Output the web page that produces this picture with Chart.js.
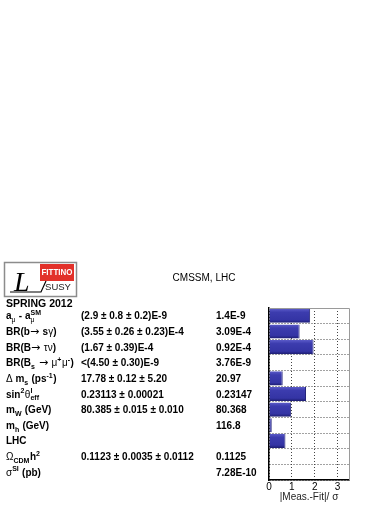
<!DOCTYPE html>
<html>
<head>
<meta charset="utf-8">
<script src="https://cdn.jsdelivr.net/npm/chart.js@4.4.0/dist/chart.umd.min.js"></script>
<style>
  html, body { margin: 0; padding: 0; background: #fff; }
  #wrap { width: 390px; height: 505px; position: relative; }
</style>
</head>
<body>
<div id="wrap"><canvas id="pulls" width="390" height="505"></canvas></div>
<script>
// rows of the fit, top to bottom
const rowNames = ['a_mu', 'BR(b->sgamma)', 'BR(B->taunu)', 'BR(Bs->mumu)', 'Delta ms', 'sin2theta', 'mW', 'mh', 'LHC', 'Omega h2', 'sigmaSI'];

// label segments: t = plain bold, g = greek (normal weight), a = arrow, sub / sup = small
const rowLabels = [
  [{ t: 'a' }, { sub: 'μ', g: true }, { t: ' - a' }, { sup: 'SM', sub: 'μ', g: true }],
  [{ t: 'BR(b' }, { t: '→ ', a: true }, { t: 's' }, { t: 'γ', g: true }, { t: ')' }],
  [{ t: 'BR(B' }, { t: '→ ', a: true }, { t: 'τν', g: true }, { t: ')' }],
  [{ t: 'BR(B' }, { sub: 's' }, { t: ' → ', a: true }, { t: 'μ', g: true }, { sup: '+' }, { t: 'μ', g: true }, { sup: '-' }, { t: ')' }],
  [{ t: 'Δ', g: true }, { t: ' m' }, { sub: 's' }, { t: ' (ps' }, { sup: '-1' }, { t: ')' }],
  [{ t: 'sin' }, { sup: '2' }, { t: 'θ', g: true }, { sup: 'l', sub: 'eff' }],
  [{ t: 'm' }, { sub: 'W' }, { t: ' (GeV)' }],
  [{ t: 'm' }, { sub: 'h' }, { t: ' (GeV)' }],
  [{ t: 'LHC' }],
  [{ t: 'Ω', g: true }, { sub: 'CDM' }, { t: 'h' }, { sup: '2' }],
  [{ t: 'σ', g: true }, { sup: 'SI' }, { t: ' (pb)' }]
];

const measured = [
  '(2.9 ± 0.8 ± 0.2)E-9',
  '(3.55 ± 0.26 ± 0.23)E-4',
  '(1.67 ± 0.39)E-4',
  '<(4.50 ± 0.30)E-9',
  '17.78 ± 0.12 ± 5.20',
  '0.23113 ± 0.00021',
  '80.385 ± 0.015 ± 0.010',
  '',
  '',
  '0.1123 ± 0.0035 ± 0.0112',
  ''
];

const fitted = ['1.4E-9', '3.09E-4', '0.92E-4', '3.76E-9', '20.97', '0.23147', '80.368', '116.8', '', '0.1125', '7.28E-10'];

// |Meas.-Fit| / sigma
const pulls = [1.8, 1.34, 1.95, 0, 0.6, 1.62, 0.97, 0.12, 0.72, 0.02, 0];

const pullMax = 3.5;

const SANS = '"Liberation Sans", Arial, Helvetica, sans-serif';

function segFont(s, size) {
  if (s.a) return 'normal ' + (size + 1) + 'px "DejaVu Sans", ' + SANS;
  return (s.g ? 'normal ' : 'bold ') + size + 'px ' + SANS;
}

function drawRich(ctx, x, y, segs, size) {
  ctx.textAlign = 'left';
  ctx.textBaseline = 'alphabetic';
  segs.forEach(s => {
    if (s.t) {
      ctx.font = segFont(s, size);
      ctx.fillText(s.t, x, y);
      x += ctx.measureText(s.t).width;
    } else {
      const small = size * 0.7;
      let adv = 0;
      if (s.sup) {
        ctx.font = 'bold ' + small + 'px ' + SANS;
        ctx.fillText(s.sup, x, y - size * 0.42);
        adv = Math.max(adv, ctx.measureText(s.sup).width);
      }
      if (s.sub) {
        ctx.font = (s.g ? 'normal ' : 'bold ') + small + 'px ' + SANS;
        ctx.fillText(s.sub, x, y + size * 0.28);
        adv = Math.max(adv, ctx.measureText(s.sub).width);
      }
      x += adv + 0.5;
    }
  });
}

function drawLogo(ctx) {
  ctx.save();
  ctx.strokeStyle = '#8c8c8c';
  ctx.lineWidth = 1.5;
  ctx.strokeRect(4.5, 262.5, 72, 34);
  ctx.fillStyle = '#e2312a';
  ctx.fillRect(40, 264, 34, 17);
  ctx.fillStyle = '#fff';
  ctx.font = 'bold 9px ' + SANS;
  ctx.textAlign = 'center';
  ctx.textBaseline = 'middle';
  ctx.fillText('FITTINO', 57, 273, 31);
  ctx.fillStyle = '#222';
  ctx.font = 'normal 9.5px ' + SANS;
  ctx.fillText('SUSY', 58, 287.5);
  ctx.fillStyle = '#000';
  ctx.font = 'italic 28px "Liberation Serif", serif';
  ctx.textAlign = 'left';
  ctx.textBaseline = 'alphabetic';
  ctx.fillText('L', 14, 291);
  ctx.strokeStyle = '#000';
  ctx.lineWidth = 1.2;
  ctx.beginPath();
  ctx.moveTo(10, 292);
  ctx.lineTo(41, 292);
  ctx.lineTo(46, 281);
  ctx.stroke();
  ctx.font = 'bold 10.5px ' + SANS;
  ctx.fillText('SPRING 2012', 6, 307);
  ctx.restore();
}

const sideText = {
  id: 'sideText',
  afterDraw(chart) {
    const ctx = chart.ctx;
    const y = chart.scales.y;
    const area = chart.chartArea;
    ctx.save();
    // top / right frame
    ctx.strokeStyle = '#9a9a9a';
    ctx.lineWidth = 1;
    ctx.beginPath();
    ctx.moveTo(area.left, area.top + 0.5);
    ctx.lineTo(area.right + 0.5, area.top + 0.5);
    ctx.lineTo(area.right + 0.5, area.bottom);
    ctx.stroke();

    ctx.fillStyle = '#000';
    rowNames.forEach((n, i) => {
      const yc = y.getPixelForValue(i) + 3.5;
      drawRich(ctx, 6, yc, rowLabels[i], 10);
      ctx.font = 'bold 10px ' + SANS;
      ctx.textAlign = 'left';
      if (measured[i]) ctx.fillText(measured[i], 81, yc);
      if (fitted[i]) ctx.fillText(fitted[i], 216, yc);
    });

    ctx.font = 'normal 10px ' + SANS;
    ctx.textAlign = 'center';
    ctx.fillText('CMSSM, LHC', 204, 281);
    drawLogo(ctx);
    ctx.restore();
  }
};

new Chart(document.getElementById('pulls'), {
  type: 'bar',
  data: {
    labels: rowNames,
    datasets: [{
      data: pulls,
      backgroundColor: (c) => {
        const ch = c.chart;
        const sy = ch.scales && ch.scales.y;
        const yc = sy ? sy.getPixelForValue(c.dataIndex) : NaN;
        if (!isFinite(yc)) return '#3a3aaa';
        const g = ch.ctx.createLinearGradient(0, yc - 7, 0, yc + 7);
        g.addColorStop(0, '#5a5ac8');
        g.addColorStop(0.25, '#3c3cae');
        g.addColorStop(0.8, '#3434a4');
        g.addColorStop(1, '#1c1c70');
        return g;
      },
      borderColor: '#23237a',
      borderWidth: { top: 0, bottom: 0, left: 0, right: 1 },
      borderSkipped: false,
      barPercentage: 0.9,
      categoryPercentage: 1
    }]
  },
  options: {
    indexAxis: 'y',
    responsive: false,
    animation: false,
    devicePixelRatio: 1,
    layout: { padding: { left: 269, right: 41, top: 308, bottom: 0 } },
    plugins: {
      legend: { display: false },
      tooltip: { enabled: false }
    },
    scales: {
      x: {
        min: 0,
        max: pullMax,
        afterFit: (s) => { s.height = 25; },
        ticks: {
          stepSize: 1,
          includeBounds: false,
          padding: 1,
          autoSkip: false,
          maxRotation: 0,
          color: '#000',
          font: { family: SANS, size: 10 }
        },
        grid: { color: '#444', lineWidth: 1, drawTicks: false },
        border: { color: '#000', width: 1.5, dash: [1, 2] },
        title: {
          display: true,
          text: '|Meas.-Fit|/ σ',
          color: '#222',
          font: { family: SANS, size: 10 },
          padding: { top: 0, bottom: 2 }
        }
      },
      y: {
        afterFit: (s) => { s.width = 0; },
        ticks: { display: false },
        grid: { color: '#444', lineWidth: 1, drawTicks: false, offset: true },
        border: { color: '#000', width: 1.5, dash: [1, 2] }
      }
    }
  },
  plugins: [sideText]
});
</script>
</body>
</html>
